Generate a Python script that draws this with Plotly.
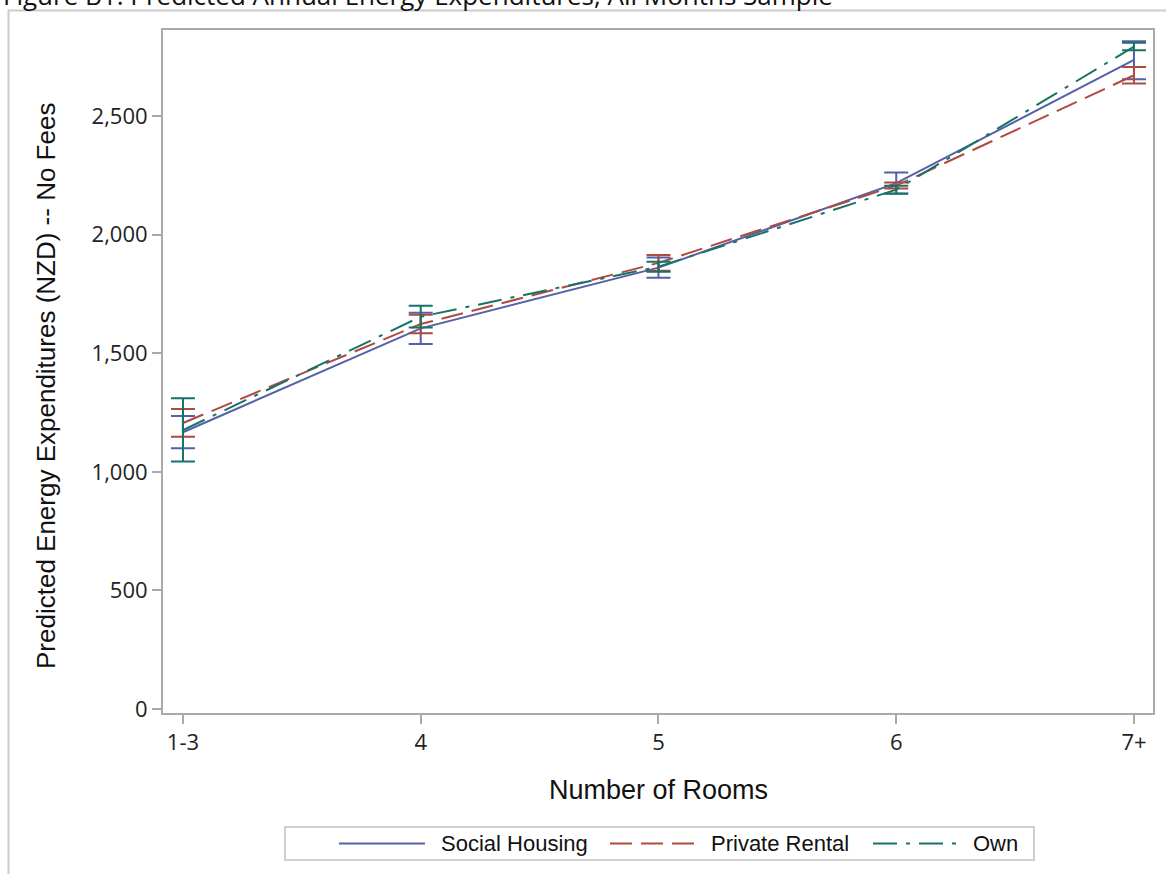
import plotly.graph_objects as go

# ---- data ----
categories = ["1-3", "4", "5", "6", "7+"]
series_names = ["Social Housing", "Private Rental", "Own"]

social_mean = [1167, 1605, 1861, 2217, 2737]
social_low = [1099, 1539, 1818, 2172, 2655]
social_high = [1235, 1671, 1904, 2262, 2816]

private_mean = [1206, 1623, 1881, 2207, 2672]
private_low = [1148, 1584, 1848, 2195, 2637]
private_high = [1265, 1662, 1914, 2220, 2707]

own_mean = [1176, 1654, 1865, 2190, 2793]
own_low = [1043, 1609, 1844, 2174, 2778]
own_high = [1310, 1700, 1886, 2206, 2809]

y_tick_vals = [0, 500, 1000, 1500, 2000, 2500]
y_tick_text = ["0", "500", "1,000", "1,500", "2,000", "2,500"]

title_text = "Figure B1: Predicted Annual Energy Expenditures, All Months Sample"
x_title = "Number of Rooms"
y_title = "Predicted Energy Expenditures (NZD) -- No Fees"

colors = ["#5560aa", "#b04a3e", "#157467"]
dashes = ["solid", "22px,9px", "24px,9px,4px,9px"]

# ---- figure ----
W, H = 1166, 874
L, R, T, B = 163, 13, 30, 161
pw, ph = W - L - R, H - T - B

def px_x(p):
    return (p - L) / pw

def px_y(p):
    return (H - B - p) / ph

fig = go.Figure()
xs = list(range(len(categories)))
data = [
    (social_mean, social_low, social_high),
    (private_mean, private_low, private_high),
    (own_mean, own_low, own_high),
]
for name, (m, lo, hi), c, d in zip(series_names, data, colors, dashes):
    fig.add_trace(go.Scatter(
        x=xs, y=m, name=name, mode="lines",
        line=dict(color=c, width=2, dash=d),
        error_y=dict(type="data", symmetric=False,
                     array=[h - v for h, v in zip(hi, m)],
                     arrayminus=[v - l for v, l in zip(m, lo)],
                     color=c, thickness=2, width=12),
        showlegend=False,
    ))

axis_col = "#a9a9a9"
fig.update_xaxes(
    range=[-0.084, 4.08], tickmode="array", tickvals=xs, ticktext=categories,
    showline=True, linecolor=axis_col, linewidth=2, mirror=True,
    ticks="outside", ticklen=9, tickwidth=2, tickcolor=axis_col,
    showgrid=False, zeroline=False,
    tickfont=dict(family="Open Sans", size=22, color="#222"),
)
fig.update_yaxes(
    range=[-17, 2863], tickmode="array", tickvals=y_tick_vals, ticktext=y_tick_text,
    showline=True, linecolor=axis_col, linewidth=2, mirror=True,
    ticks="outside", ticklen=9, tickwidth=2, tickcolor=axis_col,
    showgrid=False, zeroline=False,
    tickfont=dict(family="Open Sans", size=22, color="#222"),
)

annotations = [
    dict(text=title_text, xref="paper", yref="paper", x=px_x(1), y=px_y(-4.5),
         xanchor="left", yanchor="middle", showarrow=False,
         font=dict(family="Open Sans", size=26, color="#111")),
    dict(text=x_title, xref="paper", yref="paper", x=px_x(658.5), y=px_y(790),
         xanchor="center", yanchor="middle", showarrow=False,
         font=dict(family="Liberation Sans", size=27, color="#111")),
    dict(text=y_title, xref="paper", yref="paper", x=px_x(46), y=px_y(386),
         xanchor="center", yanchor="middle", showarrow=False, textangle=-90,
         font=dict(family="Liberation Sans", size=26, color="#111")),
]

shapes = [
    # outer frame
    dict(type="rect", xref="paper", yref="paper", x0=px_x(8.5), x1=px_x(1180),
         y0=px_y(890), y1=px_y(10.5), line=dict(color="#cccccc", width=2),
         fillcolor="rgba(0,0,0,0)", layer="below"),
    # legend box
    dict(type="rect", xref="paper", yref="paper", x0=px_x(285), x1=px_x(1034),
         y0=px_y(860), y1=px_y(827), line=dict(color="#cfcfcf", width=2),
         fillcolor="white"),
]

# legend entries
leg_y = px_y(843.5)
leg_items = [(339, 425, 439), (610, 697, 709), (873, 958, 971)]
for name, c, d, (lx0, lx1, tx) in zip(series_names, colors, dashes, leg_items):
    shapes.append(dict(type="line", xref="paper", yref="paper",
                       x0=px_x(lx0), x1=px_x(lx1), y0=leg_y, y1=leg_y,
                       line=dict(color=c, width=2, dash=d)))
    annotations.append(dict(text=name, xref="paper", yref="paper", x=px_x(tx), y=leg_y,
                            xanchor="left", yanchor="middle", showarrow=False,
                            font=dict(family="Liberation Sans", size=22, color="#111")))

fig.update_layout(
    width=W, height=H, autosize=False,
    margin=dict(l=L, r=R, t=T, b=B),
    paper_bgcolor="white", plot_bgcolor="white",
    annotations=annotations, shapes=shapes,
)

fig.write_html("out.html")
